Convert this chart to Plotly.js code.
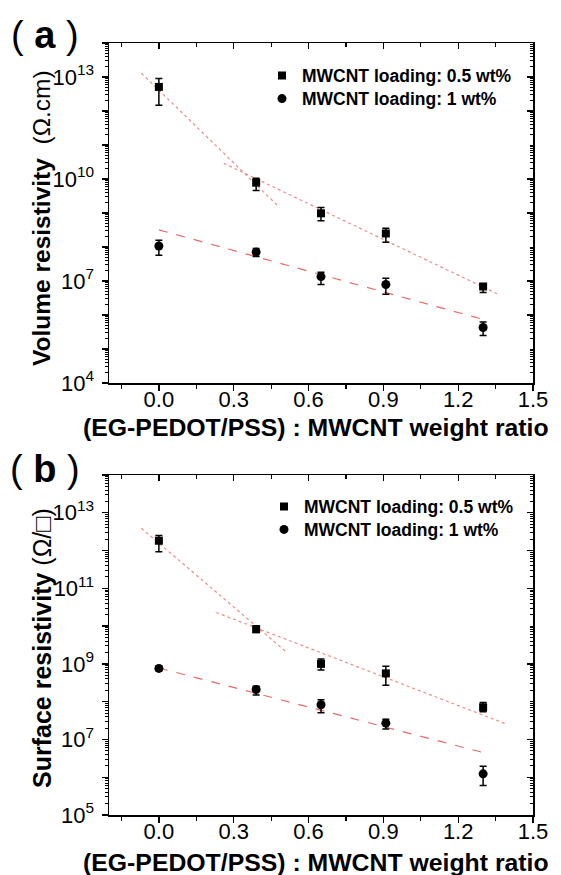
<!DOCTYPE html>
<html>
<head>
<meta charset="utf-8">
<script src="https://cdn.plot.ly/plotly-3.0.1.min.js"></script>
<style>html,body{margin:0;padding:0;background:#fff;}#chart{width:561px;height:875px;}</style>
</head>
<body>
<div id="chart"></div>
<script>
// ---------- data ----------
const ratio = [0, 0.39, 0.65, 0.91, 1.3];

// (a) volume resistivity (Ohm.cm)
const volHalf     = [5.1e12, 7.8e9, 9.8e8, 2.5e8, 6.9e6];
const volHalfHi   = [9.1e12, 1.05e10, 1.45e9, 3.55e8, 8.3e6];
const volHalfLo   = [1.48e12, 4.6e9, 5.9e8, 1.38e8, 4.6e6];
const volOne      = [1.07e8, 7.1e7, 1.35e7, 7.9e6, 4.3e5];
const volOneHi    = [1.58e8, 9.1e7, 1.82e7, 1.2e7, 6.2e5];
const volOneLo    = [5.75e7, 5.25e7, 7.9e6, 4.1e6, 2.5e5];
// fit lines (a)
const volFitSteepX   = [-0.07, 0.48];
const volFitSteepY   = [1.29e13, 1.55e9];
const volFitShallowX = [0.26, 1.36];
const volFitShallowY = [2.9e10, 4.1e6];
const volFitOneX     = [0, 1.3];
const volFitOneY     = [3.2e8, 7.4e5];

// (b) surface resistivity (Ohm/sq)
const surHalf     = [1.82e12, 8.3e9, 1.0e9, 5.6e8, 7.1e7];
const surHalfHi   = [2.5e12, 1.02e10, 1.35e9, 8.7e8, 9.5e7];
const surHalfLo   = [9.3e11, 6.8e9, 6.9e8, 2.7e8, 5.4e7];
const surOne      = [7.6e8, 2.1e8, 8.3e7, 2.7e7, 1.23e6];
const surOneHi    = [8.7e8, 2.57e8, 1.12e8, 3.4e7, 1.95e6];
const surOneLo    = [6.6e8, 1.5e8, 5.1e7, 1.9e7, 6.0e5];
// fit lines (b)
const surFitSteepX   = [-0.07, 0.51];
const surFitSteepY   = [3.9e12, 2.1e9];
const surFitShallowX = [0.23, 1.39];
const surFitShallowY = [2.3e10, 2.6e7];
const surFitOneX     = [0, 1.3];
const surFitOneY     = [7.8e8, 4.5e6];

const xTickVals = [0, 0.3, 0.6, 0.9, 1.2, 1.5];
const xTickText = ['0.0', '0.3', '0.6', '0.9', '1.2', '1.5'];
const volDecades = [4, 5, 6, 7, 8, 9, 10, 11, 12, 13, 14];
const volLabeled = [4, 7, 10, 13];
const surDecades = [5, 6, 7, 8, 9, 10, 11, 12, 13, 14];
const surLabeled = [5, 7, 9, 11, 13];

const seriesNames = ['MWCNT loading: 0.5 wt%', 'MWCNT loading: 1 wt%'];

// ---------- helpers ----------
const FONT = 'Liberation Sans, Arial, Helvetica, sans-serif';
const diff = (a, b) => a.map((v, i) => v - b[i]);

function pts(x, y, hi, lo, sym, size, xa, ya, name, legend) {
  return {
    x: x, y: y, xaxis: xa, yaxis: ya, type: 'scatter', mode: 'markers',
    name: name, legend: legend,
    marker: {symbol: sym, size: size, color: '#000'},
    error_y: {type: 'data', symmetric: false, array: diff(hi, y), arrayminus: diff(y, lo),
              color: '#000', thickness: 1.5, width: 3.5}
  };
}
function fit(x, y, dash, color, w, xa, ya) {
  return {x: x, y: y, xaxis: xa, yaxis: ya, type: 'scatter', mode: 'lines',
          showlegend: false, hoverinfo: 'skip',
          line: {color: color, width: w, dash: dash}};
}
function dummy(xa, ya) {
  return {x: [], y: [], xaxis: xa, yaxis: ya, type: 'scatter', mode: 'markers',
          showlegend: false, hoverinfo: 'skip'};
}

const traces = [
  fit(volFitSteepX, volFitSteepY, 'dot', '#f08a8a', 1.2, 'x', 'y'),
  fit(volFitShallowX, volFitShallowY, 'dot', '#f08a8a', 1.2, 'x', 'y'),
  fit(volFitOneX, volFitOneY, 'dash', '#ea6a6a', 1.2, 'x', 'y'),
  pts(ratio, volHalf, volHalfHi, volHalfLo, 'square', 8, 'x', 'y', seriesNames[0], 'legend'),
  pts(ratio, volOne, volOneHi, volOneLo, 'circle', 9, 'x', 'y', seriesNames[1], 'legend2'),
  fit(surFitSteepX, surFitSteepY, 'dot', '#f08a8a', 1.2, 'x3', 'y3'),
  fit(surFitShallowX, surFitShallowY, 'dot', '#f08a8a', 1.2, 'x3', 'y3'),
  fit(surFitOneX, surFitOneY, 'dash', '#ea6a6a', 1.2, 'x3', 'y3'),
  pts(ratio, surHalf, surHalfHi, surHalfLo, 'square', 8, 'x3', 'y3', seriesNames[0], 'legend3'),
  pts(ratio, surOne, surOneHi, surOneLo, 'circle', 9, 'x3', 'y3', seriesNames[1], 'legend4'),
  dummy('x2', 'y2'), dummy('x4', 'y4')
];

// ---------- layout ----------
const W = 561, H = 875;
const px = v => v / W;
const py = v => 1 - v / H;
const xDom = [px(109), px(533)];
const aDom = [py(383), py(43)];
const bDom = [py(815), py(475)];

function xAxis(dom, anchor, overlay) {
  const ax = {
    domain: dom, anchor: anchor, range: [-0.2, 1.5], showgrid: false, zeroline: false,
    showline: true, linecolor: '#000', linewidth: 1.5,
    tickmode: 'array', tickvals: xTickVals, ticktext: xTickText,
    ticks: 'outside', ticklen: 6, tickwidth: 1.3, tickcolor: '#000',
    ticklabelstandoff: -10,
    tickfont: {family: FONT, size: 22, color: '#000'},
    minor: {tickmode: 'linear', tick0: 0, dtick: 0.15, ticks: 'outside', ticklen: 4, tickwidth: 1.2, tickcolor: '#000'}
  };
  if (overlay) {
    ax.overlaying = overlay; ax.side = 'top'; ax.ticks = 'inside';
    ax.minor = Object.assign({}, ax.minor, {ticks: 'inside'});
    ax.showticklabels = false;
  }
  return ax;
}
function yAxis(dom, anchor, range, decades, labeled, overlay) {
  const ax = {
    domain: dom, anchor: anchor, type: 'log', range: range, showgrid: false, zeroline: false,
    showline: true, linecolor: '#000', linewidth: 1.5,
    tickmode: 'array',
    tickvals: decades.map(d => Math.pow(10, d)),
    ticktext: decades.map(d => labeled.includes(d) ? '10<sup>' + d + '</sup>' : ''),
    ticks: 'outside', ticklen: 6, tickwidth: 1.3, tickcolor: '#000',
    ticklabelstandoff: 3,
    tickfont: {family: FONT, size: 22, color: '#000'},
    minor: {dtick: 'D1', ticks: 'outside', ticklen: 3, tickwidth: 1, tickcolor: '#000'}
  };
  if (overlay) {
    ax.overlaying = overlay; ax.side = 'right'; ax.ticks = 'inside';
    ax.minor = Object.assign({}, ax.minor, {ticks: 'inside'});
    ax.showticklabels = false;
  }
  return ax;
}

const legendBase = {
  bgcolor: 'rgba(0,0,0,0)', borderwidth: 0, xanchor: 'left', yanchor: 'middle',
  font: {family: FONT, size: 17.5, color: '#000', weight: 'bold'},
  tracegroupgap: 0, itemsizing: 'trace'
};
const leg = (x, y) => Object.assign({}, legendBase, {x: px(x), y: py(y)});

const ann = (text, x, y, size, opts) => Object.assign({
  text: text, xref: 'paper', yref: 'paper', x: px(x), y: py(y), showarrow: false,
  xanchor: 'center', yanchor: 'middle',
  font: {family: FONT, size: size, color: '#000'}
}, opts || {});

const layout = {
  width: W, height: H, margin: {l: 0, r: 0, t: 0, b: 0},
  paper_bgcolor: '#fff', plot_bgcolor: '#fff', showlegend: true,
  xaxis: xAxis(xDom, 'y'), xaxis2: xAxis(xDom, 'y', 'x'),
  yaxis: yAxis(aDom, 'x', [4, 14], volDecades, volLabeled), yaxis2: yAxis(aDom, 'x', [4, 14], volDecades, volLabeled, 'y'),
  xaxis3: xAxis(xDom, 'y3'), xaxis4: xAxis(xDom, 'y3', 'x3'),
  yaxis3: yAxis(bDom, 'x3', [5, 14], surDecades, surLabeled), yaxis4: yAxis(bDom, 'x3', [5, 14], surDecades, surLabeled, 'y3'),
  legend: leg(262, 75.7),
  legend2: leg(262, 98.7),
  legend3: leg(264, 506.7),
  legend4: leg(264, 529.5),
  annotations: [
    ann('( <b>a</b> )', 45, 35, 38),
    ann('( <b>b</b> )', 45, 469, 38),
    ann('<b>(EG-PEDOT/PSS) : MWCNT weight ratio</b>', 316, 428, 24.8),
    ann('<b>(EG-PEDOT/PSS) : MWCNT weight ratio</b>', 316, 862, 24.8),
    ann('<b>Volume resistivity</b>  (Ω.cm)', 42, 218, 24.5, {textangle: -90}),
    ann('<b>Surface resistivity</b> (Ω/□)', 42, 648, 25, {textangle: -90})
  ]
};

Plotly.newPlot('chart', traces, layout, {displayModeBar: false, staticPlot: true});
</script>
</body>
</html>
